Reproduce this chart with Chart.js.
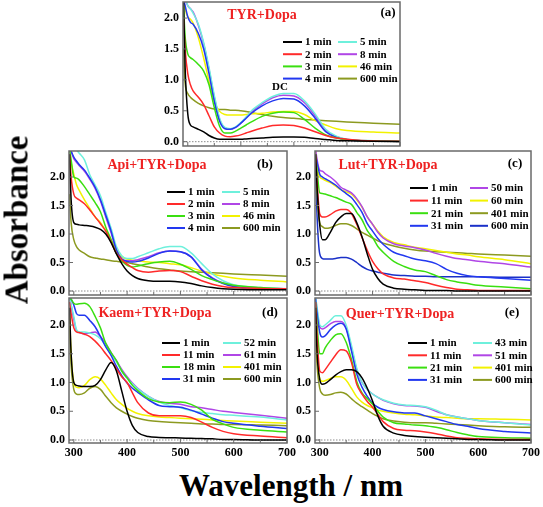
<!DOCTYPE html>
<html>
<head>
<meta charset="utf-8">
<script src="https://cdn.jsdelivr.net/npm/chart.js@4.4.1/dist/chart.umd.min.js"></script>
<style>
  body { margin: 0; background: #fff; }
  #wrap { position: relative; width: 543px; height: 507px; overflow: hidden; }
  canvas { position: absolute; }
  .big { position: absolute; font-family: "Liberation Serif", "DejaVu Serif", serif; font-weight: bold; color: #000; line-height: 1; white-space: nowrap; }
</style>
</head>
<body>
<div id="wrap">
  <canvas id="pa" width="260" height="152" style="left:145px;top:0px"></canvas>
  <canvas id="pb" width="264" height="150" style="left:28px;top:147px"></canvas>
  <canvas id="pc" width="264" height="150" style="left:274px;top:147px"></canvas>
  <canvas id="pd" width="275" height="172" style="left:28px;top:294px"></canvas>
  <canvas id="pe" width="269" height="172" style="left:274px;top:294px"></canvas>
  <div class="big" style="left:17px;top:220px;font-size:33px;transform:translate(-50%,-50%) rotate(-90deg)">Absorbance</div>
  <div class="big" style="left:291px;top:470px;font-size:31px;transform:translateX(-50%)">Wavelength / nm</div>
</div>
<script>
// wavelengths (nm) shared by every curve
const wl = [292, 295, 300, 305, 310, 320, 330, 340, 350, 360, 370, 380, 390, 400, 410, 420, 440, 460, 480, 500, 520, 540, 560, 580, 600, 650, 700];
const xTicks = [300, 400, 500, 600, 700];
const yTicks = [0, 0.5, 1, 1.5, 2];

// (a) TYR+Dopa
const aLabels = ['1 min', '2 min', '3 min', '4 min', '5 min', '8 min', '46 min', '600 min'];
const aCurves = [
  [2.3, 1.2, 0.45, 0.27, 0.24, 0.2, 0.16, 0.1, 0.06, 0.04, 0.04, 0.04, 0.04, 0.04, 0.045, 0.05, 0.06, 0.07, 0.075, 0.075, 0.07, 0.05, 0.035, 0.02, 0.015, 0.005, 0],
  [2.0, 1.5, 1.1, 0.92, 0.82, 0.72, 0.6, 0.42, 0.24, 0.14, 0.09, 0.08, 0.09, 0.11, 0.14, 0.17, 0.22, 0.26, 0.27, 0.26, 0.22, 0.16, 0.1, 0.06, 0.04, 0.01, 0.005],
  [2.2, 1.7, 1.42, 1.36, 1.33, 1.25, 1.14, 0.92, 0.55, 0.25, 0.14, 0.14, 0.17, 0.22, 0.27, 0.32, 0.41, 0.46, 0.48, 0.47, 0.36, 0.22, 0.11, 0.06, 0.03, 0.01, 0.005],
  [2.3, 2.2, 2.02, 1.93, 1.9, 1.75, 1.5, 1.1, 0.65, 0.33, 0.21, 0.2, 0.23, 0.3, 0.38, 0.46, 0.58, 0.66, 0.7, 0.69, 0.58, 0.38, 0.16, 0.07, 0.03, 0.01, 0.005],
  [2.4, 2.35, 2.2, 2.15, 2.08, 1.9, 1.6, 1.2, 0.75, 0.38, 0.23, 0.21, 0.24, 0.31, 0.4, 0.5, 0.63, 0.73, 0.78, 0.78, 0.66, 0.45, 0.2, 0.09, 0.04, 0.015, 0.01],
  [2.35, 2.3, 2.2, 2.15, 2.1, 1.88, 1.58, 1.17, 0.72, 0.36, 0.22, 0.2, 0.23, 0.3, 0.39, 0.48, 0.61, 0.71, 0.75, 0.74, 0.63, 0.42, 0.18, 0.08, 0.035, 0.01, 0.005],
  [2.3, 2.15, 2.02, 1.98, 1.92, 1.68, 1.35, 0.98, 0.65, 0.49, 0.44, 0.43, 0.43, 0.43, 0.44, 0.45, 0.46, 0.48, 0.49, 0.49, 0.44, 0.34, 0.27, 0.21, 0.18, 0.155, 0.14],
  [1.5, 0.95, 0.78, 0.72, 0.68, 0.62, 0.58, 0.55, 0.53, 0.52, 0.52, 0.51, 0.51, 0.5, 0.49, 0.47, 0.44, 0.41, 0.39, 0.38, 0.36, 0.35, 0.34, 0.33, 0.32, 0.3, 0.28]
];

// (b) Api+TYR+Dopa
const bLabels = ['1 min', '2 min', '3 min', '4 min', '5 min', '8 min', '46 min', '600 min'];
const bCurves = [
  [2.4, 1.6, 1.2, 1.17, 1.16, 1.15, 1.14, 1.12, 1.08, 1.0, 0.85, 0.65, 0.48, 0.35, 0.27, 0.22, 0.18, 0.17, 0.17, 0.16, 0.13, 0.09, 0.06, 0.04, 0.03, 0.02, 0.02],
  [2.4, 2.0, 1.7, 1.63, 1.6, 1.53, 1.42, 1.3, 1.18, 1.05, 0.86, 0.66, 0.55, 0.47, 0.41, 0.36, 0.33, 0.35, 0.36, 0.34, 0.26, 0.18, 0.12, 0.08, 0.06, 0.045, 0.04],
  [2.5, 2.3, 2.0, 1.98, 1.95, 1.83, 1.69, 1.55, 1.39, 1.12, 0.9, 0.66, 0.53, 0.45, 0.42, 0.44, 0.48, 0.51, 0.52, 0.47, 0.38, 0.27, 0.2, 0.14, 0.1, 0.06, 0.04],
  [2.5, 2.45, 2.35, 2.28, 2.22, 2.12, 1.98, 1.82, 1.6, 1.33, 1.05, 0.72, 0.56, 0.52, 0.51, 0.52, 0.58, 0.66, 0.7, 0.69, 0.6, 0.37, 0.22, 0.13, 0.08, 0.04, 0.03],
  [2.6, 2.6, 2.55, 2.48, 2.42, 2.3, 2.04, 1.86, 1.67, 1.38, 1.1, 0.78, 0.62, 0.57, 0.57, 0.6, 0.67, 0.74, 0.78, 0.78, 0.67, 0.48, 0.3, 0.18, 0.11, 0.06, 0.04],
  [2.5, 2.45, 2.32, 2.26, 2.2, 2.1, 1.96, 1.8, 1.58, 1.3, 1.02, 0.71, 0.56, 0.53, 0.53, 0.55, 0.6, 0.67, 0.7, 0.69, 0.6, 0.38, 0.23, 0.14, 0.09, 0.05, 0.04],
  [2.4, 2.25, 2.05, 1.87, 1.77, 1.6, 1.45, 1.3, 1.2, 1.06, 0.9, 0.72, 0.6, 0.56, 0.54, 0.53, 0.51, 0.5, 0.48, 0.46, 0.41, 0.35, 0.3, 0.26, 0.23, 0.19, 0.16],
  [1.7, 1.2, 0.9, 0.78, 0.72, 0.66, 0.6, 0.58, 0.56, 0.55, 0.53, 0.52, 0.51, 0.5, 0.48, 0.46, 0.42, 0.39, 0.37, 0.35, 0.34, 0.33, 0.32, 0.31, 0.3, 0.28, 0.26]
];

// (c) Lut+TYR+Dopa
const cLabels = ['1 min', '11 min', '21 min', '31 min', '50 min', '60 min', '401 min', '600 min'];
const cCurves = [
  [2.4, 1.8, 1.15, 0.9, 0.9, 1.03, 1.2, 1.3, 1.36, 1.36, 1.2, 0.95, 0.65, 0.38, 0.22, 0.12, 0.05, 0.03, 0.02, 0.01, 0.01, 0.01, 0, 0, 0, 0, 0],
  [2.4, 1.9, 1.35, 1.3, 1.3, 1.34, 1.4, 1.43, 1.43, 1.36, 1.17, 0.94, 0.71, 0.52, 0.39, 0.3, 0.23, 0.21, 0.18, 0.15, 0.1, 0.06, 0.03, 0.02, 0.01, 0.01, 0.01],
  [2.4, 2.1, 1.72, 1.71, 1.7, 1.67, 1.64, 1.6, 1.56, 1.52, 1.38, 1.25, 1.06, 0.94, 0.78, 0.68, 0.52, 0.43, 0.37, 0.34, 0.27, 0.2, 0.16, 0.13, 0.1, 0.07, 0.04],
  [2.4, 2.25, 2.05, 2.0, 1.97, 1.92, 1.86, 1.78, 1.71, 1.64, 1.52, 1.38, 1.18, 1.05, 0.92, 0.82, 0.68, 0.62, 0.56, 0.53, 0.48, 0.38, 0.31, 0.27, 0.25, 0.22, 0.19],
  [2.5, 2.3, 2.12, 2.1, 2.06, 2.0, 1.92, 1.82, 1.77, 1.72, 1.62, 1.48, 1.3, 1.17, 1.03, 0.93, 0.83, 0.79, 0.76, 0.72, 0.66, 0.61, 0.57, 0.55, 0.52, 0.48, 0.42],
  [2.5, 2.2, 2.0, 1.97, 1.94, 1.9, 1.84, 1.78, 1.74, 1.7, 1.6, 1.47, 1.3, 1.17, 1.05, 0.95, 0.85, 0.81, 0.77, 0.74, 0.71, 0.68, 0.65, 0.63, 0.6, 0.55, 0.48],
  [2.4, 1.7, 1.2, 1.13, 1.1, 1.11, 1.15, 1.18, 1.18, 1.15, 1.09, 1.03, 0.98, 0.93, 0.88, 0.84, 0.79, 0.75, 0.72, 0.7, 0.69, 0.68, 0.67, 0.66, 0.65, 0.63, 0.61],
  [2.2, 1.3, 0.65, 0.57, 0.56, 0.56, 0.57, 0.59, 0.59, 0.56, 0.5, 0.43, 0.38, 0.35, 0.33, 0.31, 0.28, 0.27, 0.26, 0.26, 0.25, 0.25, 0.25, 0.25, 0.25, 0.24, 0.24]
];

// (d) Kaem+TYR+Dopa
const dLabels = ['1 min', '11 min', '18 min', '31 min', '52 min', '61 min', '401 min', '600 min'];
const dCurves = [
  [2.3, 1.5, 1.0, 0.95, 0.94, 0.93, 0.93, 0.95, 1.05, 1.22, 1.35, 1.2, 0.85, 0.5, 0.25, 0.13, 0.06, 0.045, 0.04, 0.035, 0.03, 0.025, 0.02, 0.01, 0.01, 0, 0],
  [2.4, 2.2, 1.95, 1.88, 1.87, 1.84, 1.8, 1.72, 1.62, 1.5, 1.38, 1.24, 1.1, 1.0, 0.82, 0.65, 0.47, 0.42, 0.42, 0.42, 0.39, 0.31, 0.22, 0.15, 0.11, 0.07, 0.04],
  [2.5, 2.45, 2.38, 2.36, 2.37, 2.38, 2.32, 2.15, 1.95, 1.68, 1.52, 1.38, 1.2, 1.08, 0.95, 0.86, 0.72, 0.66, 0.65, 0.66, 0.62, 0.52, 0.36, 0.28, 0.22, 0.17, 0.14],
  [2.5, 2.45, 2.35, 2.2, 2.17, 2.17, 2.08, 1.97, 1.8, 1.62, 1.47, 1.28, 1.12, 0.99, 0.9, 0.83, 0.7, 0.6, 0.58, 0.57, 0.52, 0.45, 0.38, 0.32, 0.29, 0.24, 0.2],
  [2.5, 2.35, 2.15, 1.92, 1.88, 1.88, 1.86, 1.83, 1.76, 1.64, 1.48, 1.36, 1.2, 1.07, 0.98, 0.89, 0.76, 0.66, 0.6, 0.56, 0.51, 0.48, 0.46, 0.44, 0.43, 0.4, 0.35],
  [2.5, 2.35, 2.1, 1.9, 1.87, 1.85, 1.86, 1.88, 1.8, 1.68, 1.52, 1.38, 1.23, 1.1, 0.99, 0.9, 0.76, 0.67, 0.64, 0.62, 0.58, 0.56, 0.53, 0.5, 0.48, 0.43, 0.38],
  [2.2, 1.5, 1.0, 0.92, 0.91, 0.95, 1.05, 1.1, 1.06, 0.95, 0.82, 0.7, 0.62, 0.55, 0.5, 0.46, 0.42, 0.4, 0.39, 0.38, 0.37, 0.36, 0.35, 0.34, 0.33, 0.31, 0.29],
  [2.0, 1.3, 0.88, 0.8, 0.79, 0.82, 0.9, 0.93, 0.88, 0.76, 0.65, 0.56, 0.5, 0.45, 0.41, 0.38, 0.34, 0.32, 0.31, 0.3, 0.29, 0.28, 0.28, 0.27, 0.27, 0.26, 0.25]
];

// (e) Quer+TYR+Dopa
const eLabels = ['1 min', '11 min', '21 min', '31 min', '43 min', '51 min', '401 min', '600 min'];
const eCurves = [
  [2.3, 1.5, 1.05, 0.97, 0.98, 1.05, 1.13, 1.19, 1.22, 1.22, 1.19, 1.08, 0.9, 0.68, 0.42, 0.24, 0.12, 0.08, 0.06, 0.05, 0.04, 0.03, 0.02, 0.01, 0.01, 0, 0],
  [2.4, 1.8, 1.2, 1.17, 1.22, 1.35, 1.48, 1.57, 1.55, 1.35, 0.97, 0.8, 0.67, 0.57, 0.45, 0.32, 0.2, 0.17, 0.16, 0.14, 0.11, 0.07, 0.04, 0.03, 0.02, 0.01, 0.01],
  [2.4, 2.0, 1.5, 1.5, 1.6, 1.73, 1.83, 1.85, 1.7, 1.4, 1.02, 0.82, 0.72, 0.62, 0.5, 0.4, 0.3, 0.28, 0.26, 0.25, 0.22, 0.18, 0.13, 0.09, 0.06, 0.04, 0.03],
  [2.45, 2.2, 1.87, 1.79, 1.81, 1.92, 2.0, 2.03, 1.93, 1.55, 1.15, 0.92, 0.76, 0.64, 0.57, 0.53, 0.49, 0.47, 0.47, 0.42, 0.37, 0.32, 0.27, 0.24, 0.2, 0.15, 0.12],
  [2.5, 2.3, 2.0, 1.97, 2.0, 2.08, 2.16, 2.16, 2.0, 1.65, 1.25, 1.0, 0.88, 0.8, 0.74, 0.7, 0.64, 0.61, 0.6, 0.58, 0.52, 0.44, 0.4, 0.37, 0.34, 0.3, 0.26],
  [2.5, 2.25, 1.97, 1.93, 1.95, 2.02, 2.06, 2.06, 1.95, 1.6, 1.22, 1.0, 0.88, 0.8, 0.74, 0.69, 0.63, 0.6, 0.59, 0.57, 0.5, 0.44, 0.4, 0.37, 0.34, 0.3, 0.27],
  [2.2, 1.5, 1.07, 1.02, 1.03, 1.07, 1.1, 1.1, 1.04, 0.9, 0.75, 0.66, 0.6, 0.56, 0.52, 0.5, 0.47, 0.45, 0.44, 0.42, 0.4, 0.39, 0.38, 0.37, 0.37, 0.36, 0.35],
  [2.0, 1.3, 0.9, 0.8, 0.78, 0.79, 0.82, 0.83, 0.8, 0.72, 0.64, 0.58, 0.52, 0.46, 0.41, 0.37, 0.33, 0.31, 0.3, 0.3, 0.29, 0.28, 0.27, 0.26, 0.25, 0.23, 0.22]
];

const BLACK = '#000000', RED = '#ff2a2a', GREEN = '#3adf10', BLUE = '#2238f0',
      CYAN = '#6ef0dc', PURPLE = '#b046e6', YELLOW = '#f2f200', OLIVE = '#8c9a20', NAVY = '#1a30c8';
const serif = '"Liberation Serif", "DejaVu Serif", serif';

// frame, ticks, zero line, titles and the two-column legend
const deco = {
  id: 'deco',
  beforeDatasetsDraw(chart, args, o) {
    const { ctx, chartArea: a, scales } = chart;
    const y0 = scales.y.getPixelForValue(0);
    ctx.save();
    ctx.strokeStyle = '#8a8a8a';
    ctx.lineWidth = 1;
    ctx.setLineDash([1.5, 1.5]);
    ctx.beginPath();
    ctx.moveTo(a.left, y0);
    ctx.lineTo(a.right, y0);
    ctx.stroke();
    ctx.restore();
  },
  afterDatasetsDraw(chart, args, o) {
    const { ctx, chartArea: a, scales } = chart;
    ctx.save();
    ctx.strokeStyle = '#6a6a6a';
    ctx.lineWidth = 1.5;
    ctx.strokeRect(a.left, a.top, a.right - a.left, a.bottom - a.top);
    ctx.lineWidth = 1;
    ctx.beginPath();
    for (let v = 300; v <= 700; v += 50) {
      const px = scales.x.getPixelForValue(v);
      const len = v % 100 === 0 ? 4 : 3;
      ctx.moveTo(px, a.bottom);
      ctx.lineTo(px, a.bottom - len);
    }
    for (let v = 0; v <= 2; v += 0.5) {
      const py = scales.y.getPixelForValue(v);
      ctx.moveTo(a.left, py);
      ctx.lineTo(a.left + 4, py);
    }
    ctx.stroke();

    const ox = o.left, oy = o.top;
    ctx.textBaseline = 'middle';
    ctx.textAlign = 'center';
    ctx.fillStyle = '#ee2222';
    ctx.font = 'bold 14px ' + serif;
    ctx.fillText(o.title[0], o.title[1] - ox, o.title[2] - oy);
    ctx.fillStyle = '#000';
    ctx.font = 'bold 13px ' + serif;
    ctx.fillText(o.tag[0], o.tag[1] - ox, o.tag[2] - oy);
    if (o.note) {
      ctx.font = 'bold 11px ' + serif;
      ctx.fillText(o.note[0], o.note[1] - ox, o.note[2] - oy);
    }

    ctx.textAlign = 'left';
    ctx.font = 'bold 11px ' + serif;
    const L = o.legend;
    chart.data.datasets.forEach((ds, i) => {
      const col = i < 4 ? 0 : 1;
      const row = i % 4;
      const x = (col === 0 ? L.x1 : L.x2) - ox;
      const y = L.y + row * L.dy - oy;
      ctx.strokeStyle = ds.borderColor;
      ctx.lineWidth = 2;
      ctx.beginPath();
      ctx.moveTo(x, y);
      ctx.lineTo(x + L.len, y);
      ctx.stroke();
      ctx.fillStyle = '#000';
      ctx.fillText(ds.label, x + L.len + 3, y + 0.5);
    });
    ctx.restore();
  }
};

function makePanel(id, p) {
  const datasets = p.curves.map((c, i) => ({
    label: p.labels[i],
    data: wl.map((x, j) => ({ x: x, y: c[j] })),
    borderColor: p.colors[i],
    borderWidth: 1.5,
    pointRadius: 0,
    cubicInterpolationMode: 'monotone',
    fill: false
  }));
  const tickFont = { family: serif, size: 12, weight: 'bold' };
  return new Chart(document.getElementById(id), {
    type: 'line',
    data: { datasets: datasets },
    plugins: [deco],
    options: {
      responsive: false,
      animation: false,
      devicePixelRatio: 1,
      layout: { padding: { left: 0, right: p.padR, top: p.padT, bottom: 0 } },
      plugins: {
        legend: { display: false },
        tooltip: { enabled: false },
        deco: p
      },
      scales: {
        x: {
          type: 'linear', min: 291, max: 700,
          grid: { display: false, drawTicks: false },
          border: { display: false },
          ticks: { display: p.xLabels, font: tickFont, color: '#000', padding: 3, maxRotation: 0, autoSkip: false },
          afterBuildTicks: s => { s.ticks = xTicks.map(v => ({ value: v })); },
          afterFit: s => { s.height = p.xH; s.paddingLeft = 0; s.paddingRight = 0; }
        },
        y: {
          min: p.yMin, max: p.yMax,
          grid: { display: false, drawTicks: false },
          border: { display: false },
          ticks: { font: tickFont, color: '#000', padding: 4, callback: v => v.toFixed(1) },
          afterBuildTicks: s => { s.ticks = yTicks.map(v => ({ value: v })); },
          afterFit: s => { s.width = p.yW; s.paddingTop = 0; s.paddingBottom = 0; }
        }
      }
    }
  });
}

const colorsStd = [BLACK, RED, GREEN, BLUE, CYAN, PURPLE, YELLOW, OLIVE];

makePanel('pa', {
  curves: aCurves, labels: aLabels, colors: colorsStd,
  left: 145, top: 0, yW: 38, padR: 5, padT: 2, xH: 6, xLabels: false, yMin: -0.07, yMax: 2.26,
  title: ['TYR+Dopa', 262, 15], tag: ['(a)', 388, 13], note: ['DC', 280, 87],
  legend: { x1: 283, x2: 338, y: 42, dy: 12.2, len: 19 }
});
makePanel('pb', {
  curves: bCurves, labels: bLabels, colors: colorsStd,
  left: 28, top: 147, yW: 41, padR: 5, padT: 4, xH: 2, xLabels: false, yMin: -0.07, yMax: 2.456,
  title: ['Api+TYR+Dopa', 157, 165], tag: ['(b)', 265, 165],
  legend: { x1: 167, x2: 222, y: 192, dy: 12, len: 18 }
});
makePanel('pc', {
  curves: cCurves, labels: cLabels, colors: [BLACK, RED, GREEN, BLUE, PURPLE, YELLOW, OLIVE, NAVY],
  left: 274, top: 147, yW: 41, padR: 7, padT: 4, xH: 2, xLabels: false, yMin: -0.07, yMax: 2.456,
  title: ['Lut+TYR+Dopa', 388, 165], tag: ['(c)', 515, 164],
  legend: { x1: 410, x2: 470, y: 188, dy: 12.6, len: 18 }
});
makePanel('pd', {
  curves: dCurves, labels: dLabels, colors: colorsStd,
  left: 28, top: 294, yW: 41, padR: 16, padT: 4, xH: 23, xLabels: true, yMin: -0.052, yMax: 2.47,
  title: ['Kaem+TYR+Dopa', 155, 313], tag: ['(d)', 270, 313],
  legend: { x1: 162, x2: 223, y: 343, dy: 12, len: 18 }
});
makePanel('pe', {
  curves: eCurves, labels: eLabels, colors: colorsStd,
  left: 274, top: 294, yW: 41, padR: 12, padT: 4, xH: 23, xLabels: true, yMin: -0.052, yMax: 2.47,
  title: ['Quer+TYR+Dopa', 400, 314], tag: ['(e)', 512, 313],
  legend: { x1: 408, x2: 473, y: 343, dy: 12.3, len: 19 }
});
</script>
</body>
</html>
